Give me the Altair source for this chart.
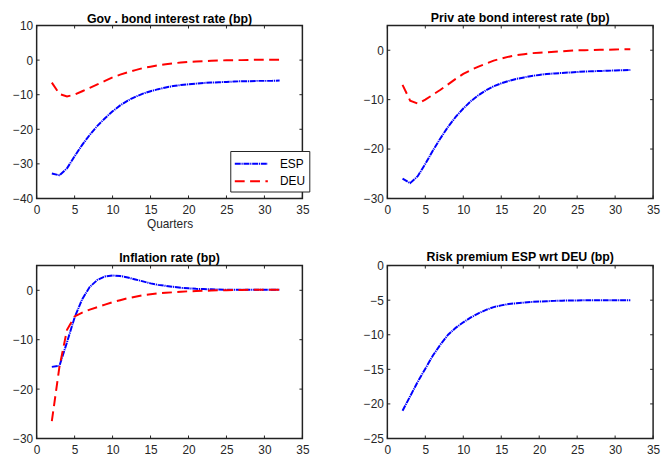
import altair as alt
import pandas as pd

quarters = list(range(2, 33))

gov_esp = [-32.8, -33.3, -31.3, -27.8, -24.5, -21.6, -19.0, -16.8, -14.8, -13.1, -11.7,
           -10.6, -9.7, -9.0, -8.4, -7.9, -7.5, -7.2, -7.0, -6.8, -6.6, -6.5, -6.4, -6.3,
           -6.2, -6.1, -6.1, -6.0, -6.0, -6.0, -5.9]
gov_deu = [-6.5, -9.8, -10.5, -10.0, -9.0, -8.0, -7.0, -6.0, -5.0, -4.2, -3.5, -2.9, -2.3,
           -1.9, -1.5, -1.2, -0.9, -0.7, -0.5, -0.4, -0.3, -0.2, -0.1, -0.05, 0.0, 0.0,
           0.05, 0.1, 0.1, 0.1, 0.1]
priv_esp = [-26.0, -26.9, -25.5, -23.0, -20.3, -17.8, -15.5, -13.5, -11.8, -10.3, -9.1,
            -8.1, -7.3, -6.7, -6.2, -5.8, -5.5, -5.2, -5.0, -4.8, -4.7, -4.6, -4.5, -4.4,
            -4.3, -4.25, -4.2, -4.15, -4.1, -4.05, -4.0]
priv_deu = [-7.0, -10.2, -10.8, -10.0, -9.0, -8.0, -6.9, -5.8, -4.8, -4.0, -3.3, -2.7, -2.1,
            -1.7, -1.3, -1.0, -0.8, -0.6, -0.5, -0.4, -0.3, -0.2, -0.1, 0.0, 0.0, 0.05,
            0.1, 0.1, 0.15, 0.2, 0.2]
infl_esp = [-15.5, -15.3, -10.5, -5.5, -1.8, 0.7, 2.1, 2.8, 3.0, 2.9, 2.6, 2.2, 1.8, 1.4,
            1.1, 0.9, 0.7, 0.5, 0.4, 0.3, 0.25, 0.2, 0.15, 0.1, 0.1, 0.1, 0.1, 0.1, 0.1,
            0.1, 0.1]
infl_deu = [-26.5, -15.5, -8.0, -5.3, -4.5, -3.9, -3.4, -2.9, -2.4, -2.0, -1.6, -1.3, -1.0,
            -0.8, -0.6, -0.5, -0.4, -0.3, -0.2, -0.15, -0.1, -0.05, 0.0, 0.0, 0.05, 0.05,
            0.1, 0.1, 0.1, 0.1, 0.1]
risk_esp = [-21.0, -18.9, -16.8, -14.9, -13.0, -11.4, -10.0, -9.0, -8.2, -7.5, -6.9, -6.4,
            -6.0, -5.75, -5.55, -5.45, -5.35, -5.25, -5.2, -5.15, -5.1, -5.07, -5.05,
            -5.03, -5.02, -5.01, -5.0, -5.0, -5.0, -5.0, -5.0]

series_names = ["ESP", "DEU"]
x_ticks = [0, 5, 10, 15, 20, 25, 30, 35]

W, H = 269, 175
FONT = "Liberation Sans"
TEXT = "#262626"


def panel(title, series, ydomain, ystep, title_offset, show_legend=False, xtitle=None):
    rows = []
    for name, vals in series:
        for q, v in zip(quarters, vals):
            rows.append({"q": q, "v": v, "series": name})
    df = pd.DataFrame(rows)
    y_ticks = list(range(ydomain[0], ydomain[1] + 1, ystep))

    xscale = alt.Scale(domain=[0, 35], nice=False, zero=False)
    yscale = alt.Scale(domain=ydomain, nice=False, zero=False)
    xaxis = alt.Axis(values=x_ticks, title=xtitle, ticks=False, grid=False, domain=False,
                     labelPadding=6, labelFontSize=12, labelColor=TEXT, labelFont=FONT,
                     titleFont=FONT, titleFontSize=12, titleFontWeight="normal",
                     titleColor=TEXT, titlePadding=3, labelFlush=False)
    yaxis = alt.Axis(values=y_ticks, title=None, ticks=False, grid=False, domain=False,
                     labelPadding=4, labelFontSize=12, labelColor=TEXT, labelFont=FONT,
                     labelFlush=False)

    leg = None
    if show_legend:
        leg = alt.Legend(title=None, orient="none", legendX=196, legendY=127,
                         strokeColor="#222222", fillColor="white", padding=3.5,
                         symbolType="M-2,0H2", symbolSize=280, symbolStrokeWidth=2,
                         symbolOffset=8.3, labelOffset=19.5,
                         labelFontSize=12, labelFont=FONT, labelColor="black",
                         rowPadding=1.6)

    color = alt.Color("series:N", scale=alt.Scale(domain=series_names,
                                                  range=["#0000ff", "#ff0000"]),
                      legend=leg)
    dash = alt.StrokeDash("series:N", scale=alt.Scale(domain=series_names,
                                                      range=[[6, 0.8, 1.2, 0.8], [10, 5.5]]),
                          legend=leg)

    lines = alt.Chart(df).mark_line(strokeWidth=2).encode(
        x=alt.X("q:Q", scale=xscale, axis=xaxis),
        y=alt.Y("v:Q", scale=yscale, axis=yaxis),
        color=color,
        strokeDash=dash,
    )

    xt = pd.DataFrame({"q": x_ticks})
    yt = pd.DataFrame({"v": y_ticks})
    tick_col = "#222222"
    xt_top = alt.Chart(xt).mark_rule(color=tick_col, strokeWidth=1).encode(
        x=alt.X("q:Q", scale=xscale, axis=xaxis), y=alt.value(0), y2=alt.value(3))
    xt_bot = alt.Chart(xt).mark_rule(color=tick_col, strokeWidth=1).encode(
        x=alt.X("q:Q", scale=xscale, axis=xaxis), y=alt.value(H - 3), y2=alt.value(H))
    yt_left = alt.Chart(yt).mark_rule(color=tick_col, strokeWidth=1).encode(
        y=alt.Y("v:Q", scale=yscale, axis=yaxis), x=alt.value(0), x2=alt.value(3))
    yt_right = alt.Chart(yt).mark_rule(color=tick_col, strokeWidth=1).encode(
        y=alt.Y("v:Q", scale=yscale, axis=yaxis), x=alt.value(W - 3), x2=alt.value(W))

    ch = alt.layer(xt_top, xt_bot, yt_left, yt_right, lines).properties(
        width=W, height=H,
        title=alt.TitleParams(title, fontSize=12.5, fontWeight="bold", font=FONT,
                              color="black", offset=title_offset),
    )
    if show_legend:
        ch = ch.resolve_legend(color="independent", strokeDash="independent")
    return ch


p1 = panel("Gov . bond interest rate (bp)", [("ESP", gov_esp), ("DEU", gov_deu)],
           [-40, 10], 10, -6, show_legend=True, xtitle="Quarters")
p2 = panel("Priv ate bond interest rate (bp)", [("ESP", priv_esp), ("DEU", priv_deu)],
           [-30, 5], 10, 0.5)
p3 = panel("Inflation rate (bp)", [("ESP", infl_esp), ("DEU", infl_deu)],
           [-30, 5], 10, 1)
p4 = panel("Risk premium ESP wrt DEU (bp)", [("ESP", risk_esp)], [-25, 0], 5, -4)

chart = alt.concat(
    p1, p2, p3, p4, columns=2,
    spacing={"row": 68, "column": 86}, bounds="flush",
).resolve_legend(
    color="independent", strokeDash="independent"
).properties(
    padding={"left": 3, "top": 0, "right": 0, "bottom": 0},
    background="white",
).configure_view(
    stroke="#222222", strokeWidth=1.5
)

chart.save("out.html", embed_options={"renderer": "svg", "actions": False})
